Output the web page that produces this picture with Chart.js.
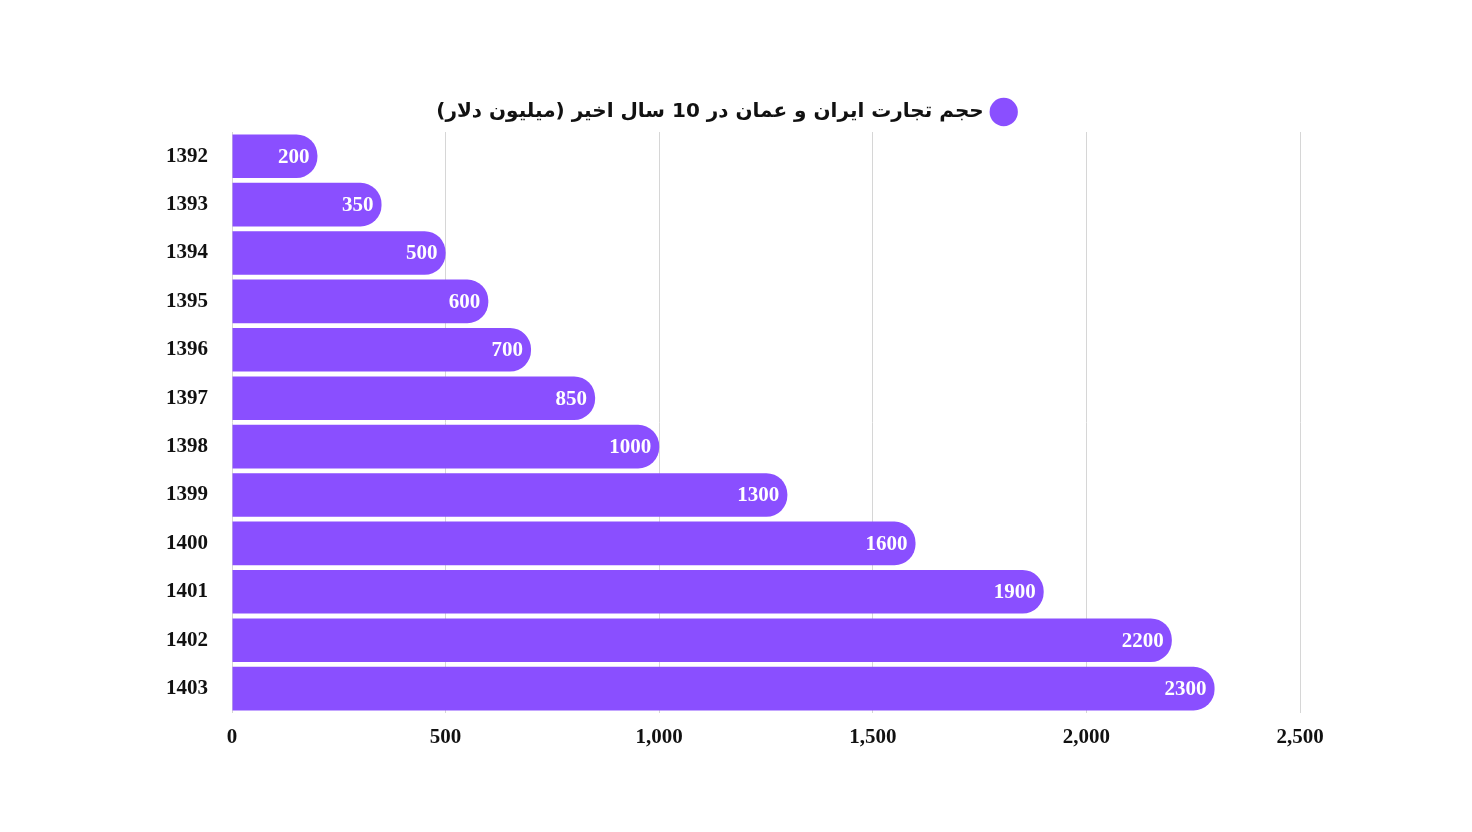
<!DOCTYPE html>
<html><head><meta charset="utf-8">
<script src="https://cdn.jsdelivr.net/npm/chart.js@4"></script>
<style>html,body{margin:0;background:#fff}#w{width:1472px;height:832px}</style>
</head><body><div id="w"><canvas id="c"></canvas></div>
<script>
const years = ['1392','1393','1394','1395','1396','1397','1398','1399','1400','1401','1402','1403'];
const values = [200,350,500,600,700,850,1000,1300,1600,1900,2200,2300];
const xTicks = [0,500,1000,1500,2000,2500];
const seriesLabel = 'حجم تجارت ایران و عمان در 10 سال اخیر (میلیون دلار)';
const color = '#8a4fff';
const serif = '"Liberation Serif","DejaVu Serif",serif';

const labelPlugin = {
  id:'lbl',
  afterDatasetsDraw(chart){
    const ctx = chart.ctx;
    chart.getDatasetMeta(0).data.forEach((bar,i)=>{
      ctx.save();
      ctx.fillStyle='#fff';
      ctx.font='bold 21px '+serif;
      ctx.textAlign='right';ctx.textBaseline='middle';
      ctx.fillText(String(values[i]), bar.x-8, bar.y+1);
      ctx.restore();
    });
  }
};

new Chart(document.getElementById('c'),{
  type:'bar',
  data:{labels:years,datasets:[{label:seriesLabel,data:values,backgroundColor:color,
    borderRadius:{topRight:21,bottomRight:21,topLeft:0,bottomLeft:0},borderSkipped:false,
    barPercentage:0.9,categoryPercentage:1}]},
  options:{
    indexAxis:'y',responsive:true,maintainAspectRatio:false,animation:false,
    layout:{padding:{left:150,right:172,top:82,bottom:70}},
    plugins:{
      legend:{rtl:true,labels:{usePointStyle:true,pointStyle:'circle',boxWidth:24,boxHeight:24,
        color:'#111',font:{family:'"DejaVu Sans",sans-serif',size:20,weight:'bold'},padding:20}},
      tooltip:{enabled:false}
    },
    scales:{
      x:{min:0,max:2500,afterBuildTicks(a){a.ticks=xTicks.map(v=>({value:v}));},
        grid:{color:'#d6d6d6',drawTicks:false},border:{display:false},
        ticks:{color:'#111',padding:12,font:{family:serif,size:21,weight:'bold'}}},
      y:{grid:{display:false},border:{display:false},
        ticks:{color:'#111',padding:16,font:{family:serif,size:21,weight:'bold'}}}
    }
  },
  plugins:[labelPlugin]
});
</script></body></html>
